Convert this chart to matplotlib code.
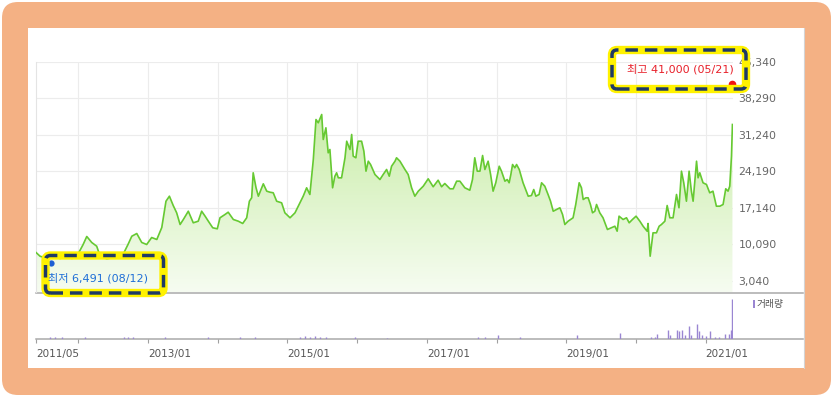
import matplotlib
matplotlib.use('Agg')
import matplotlib.pyplot as plt
import matplotlib.dates as mdates
import numpy as np
import pandas as pd
from matplotlib.patches import FancyBboxPatch, Rectangle
from matplotlib.colors import LinearSegmentedColormap
from matplotlib.lines import Line2D

# price (weekly-ish closes)
price_dates = [
    '2011-05-25', '2011-06-15', '2011-07-21', '2011-08-23', '2011-09-28', '2011-10-30',
    '2011-11-30', '2011-12-30', '2012-01-27', '2012-02-15', '2012-03-12', '2012-04-07',
    '2012-04-25', '2012-05-30', '2012-07-02', '2012-08-07', '2012-08-23', '2012-09-18',
    '2012-10-08', '2012-11-03', '2012-11-29', '2012-12-25', '2013-01-20', '2013-02-16',
    '2013-03-14', '2013-04-05', '2013-04-23', '2013-05-13', '2013-05-31', '2013-06-18',
    '2013-07-05', '2013-07-31', '2013-08-26', '2013-09-21', '2013-10-09', '2013-10-27',
    '2013-11-13', '2013-12-06', '2013-12-30', '2014-01-13', '2014-02-08', '2014-02-25',
    '2014-03-24', '2014-04-19', '2014-05-12', '2014-06-02', '2014-06-16', '2014-06-28',
    '2014-07-06', '2014-07-21', '2014-08-02', '2014-08-28', '2014-09-15', '2014-10-02',
    '2014-10-19', '2014-11-06', '2014-12-02', '2014-12-19', '2015-01-15', '2015-02-10',
    '2015-03-08', '2015-03-25', '2015-04-12', '2015-04-29', '2015-05-17', '2015-05-31',
    '2015-06-12', '2015-06-30', '2015-07-08', '2015-07-22', '2015-08-03', '2015-08-12',
    '2015-08-26', '2015-09-07', '2015-09-16', '2015-09-25', '2015-10-12', '2015-10-30',
    '2015-11-08', '2015-11-25', '2015-12-04', '2015-12-12', '2015-12-26', '2016-01-07',
    '2016-01-25', '2016-02-06', '2016-02-17', '2016-02-29', '2016-03-12', '2016-04-04',
    '2016-04-30', '2016-05-17', '2016-06-04', '2016-06-18', '2016-06-30', '2016-07-18',
    '2016-07-26', '2016-08-13', '2016-09-08', '2016-09-25', '2016-10-13', '2016-10-30',
    '2016-11-17', '2016-12-13', '2017-01-08', '2017-02-03', '2017-03-01', '2017-03-19',
    '2017-04-05', '2017-05-02', '2017-05-19', '2017-06-06', '2017-06-23', '2017-07-19',
    '2017-08-14', '2017-08-28', '2017-09-09', '2017-09-22', '2017-10-06', '2017-10-20',
    '2017-11-01', '2017-11-18', '2017-12-01', '2017-12-14', '2017-12-28', '2018-01-15',
    '2018-01-27', '2018-02-14', '2018-02-26', '2018-03-08', '2018-03-17', '2018-03-26',
    '2018-04-07', '2018-04-16', '2018-04-30', '2018-05-20', '2018-06-16', '2018-07-03',
    '2018-07-15', '2018-07-26', '2018-08-12', '2018-08-25', '2018-09-11', '2018-09-28',
    '2018-10-11', '2018-10-25', '2018-11-11', '2018-11-29', '2018-12-13', '2018-12-25',
    '2019-01-11', '2019-02-06', '2019-02-20', '2019-03-10', '2019-03-22', '2019-03-31',
    '2019-04-14', '2019-04-26', '2019-05-08', '2019-05-19', '2019-05-31', '2019-06-09',
    '2019-06-26', '2019-07-13', '2019-08-05', '2019-08-26', '2019-09-13', '2019-09-25',
    '2019-10-05', '2019-10-26', '2019-11-13', '2019-11-27', '2019-12-14', '2020-01-02',
    '2020-01-22', '2020-02-08', '2020-02-29', '2020-03-05', '2020-03-16', '2020-03-31',
    '2020-04-18', '2020-05-02', '2020-05-14', '2020-06-01', '2020-06-13', '2020-06-27',
    '2020-07-14', '2020-08-01', '2020-08-14', '2020-08-27', '2020-09-08', '2020-09-22',
    '2020-10-06', '2020-10-18', '2020-10-27', '2020-11-14', '2020-11-22', '2020-12-01',
    '2020-12-18', '2021-01-05', '2021-01-22', '2021-02-08', '2021-02-26', '2021-03-16',
    '2021-04-02', '2021-04-16', '2021-04-28', '2021-05-07', '2021-05-16', '2021-05-21',
]
price_close = [
    8550, 7830, 7390, 7770, 7390, 7770,
    7390, 8160, 10090, 11640, 10480, 9760,
    7830, 7330, 7580, 7580, 8160, 10090,
    11690, 12210, 10480, 10090, 11440, 11060,
    13370, 18450, 19420, 17620, 16210, 13950,
    14920, 16520, 14280, 14590, 16520, 15560,
    14590, 13320, 13120, 15250, 15880, 16330,
    14920, 14590, 14150, 15250, 18450, 19110,
    23940, 21040, 19420, 21810, 20390, 20190,
    20080, 18450, 18140, 16210, 15250, 16210,
    18140, 19420, 21040, 19750, 26510, 34230,
    33600, 35200, 30370, 32630, 27800, 28440,
    21040, 23280, 23940, 22970, 22970, 26840,
    30040, 28440, 31340, 27150, 26840, 30040,
    30040, 28110, 24250, 26180, 25540, 23610,
    22640, 23610, 24580, 23280, 25210, 26180,
    26840, 26180, 24580, 23610, 21040, 19420,
    20390, 21350, 22780, 21240, 22510, 21240,
    21870, 20850, 20850, 22320, 22320, 21040,
    20580, 22640, 26840, 24250, 24250, 27280,
    24580, 26180, 23610, 20390, 22010, 25210,
    24250, 22320, 22640, 22010, 23610, 25540,
    24900, 25540, 24580, 22010, 19420, 19550,
    20710, 19420, 19750, 22010, 21350, 19750,
    18450, 16520, 16850, 17180, 15880, 13950,
    14590, 15250, 17820, 22010, 21040, 18780,
    19110, 19110, 17820, 16210, 16520, 17820,
    16210, 15250, 12990, 13320, 13620, 12660,
    15560, 14920, 15250, 14280, 14920, 15560,
    14590, 13620, 12660, 14150, 7830, 12350,
    12350, 13620, 13950, 14590, 17620, 15250,
    15250, 19750, 17180, 24250, 22010, 18450,
    24250, 20390, 18450, 26180, 22970, 23940,
    22010, 21680, 20080, 20390, 17490, 17490,
    17820, 20850, 20390, 21350, 27150, 33270,
]

# volume (relative units, tallest bar = 100)
vol_dates = [
    '2011-08-07', '2011-09-02', '2011-10-09', '2012-02-06', '2012-08-28', '2012-09-18',
    '2012-10-14', '2013-03-31', '2013-11-11', '2014-04-28', '2014-07-15', '2015-03-08',
    '2015-04-03', '2015-04-29', '2015-05-26', '2015-06-21', '2015-07-22', '2015-12-21',
    '2016-06-06', '2017-09-25', '2017-11-01', '2018-01-08', '2018-05-03', '2019-02-26',
    '2019-10-09', '2020-03-19', '2020-04-09', '2020-04-23', '2020-06-15', '2020-06-30',
    '2020-08-01', '2020-08-13', '2020-08-30', '2020-09-13', '2020-10-04', '2020-10-15',
    '2020-11-14', '2020-11-26', '2020-12-10', '2021-01-05', '2021-01-26', '2021-02-17',
    '2021-03-12', '2021-04-10', '2021-05-01', '2021-05-15', '2021-05-21',
]
vol_values = [
    5, 4, 4, 5, 5, 6,
    5, 5, 4, 4, 5, 6,
    7, 6, 7, 5, 5, 4,
    3, 5, 5, 10, 4, 10,
    14, 5, 5, 12, 22, 10,
    23, 19, 22, 10, 31, 10,
    38, 19, 10, 7, 21, 5,
    5, 13, 13, 22, 100,
]

ytick_vals = [3040, 10090, 17140, 24190, 31240, 38290, 45340]
xtick_dates = ['2011-05-25', '2012-01-01', '2013-01-01', '2014-01-01', '2015-01-01',
               '2016-01-01', '2017-01-01', '2018-01-01', '2019-01-01', '2020-01-01',
               '2021-01-01']
xtick_labels = ['2011/05', '', '2013/01', '', '2015/01', '', '2017/01', '',
                '2019/01', '', '2021/01']

low_date, low_value = '2011-08-12', 6491
high_date, high_value = '2021-05-21', 41000
high_text = '최고 41,000 (05/21)'
low_text = '최저 6,491 (08/12)'

W, H = 833, 397
fig = plt.figure(figsize=(W / 100, H / 100), dpi=100)
fig.patch.set_facecolor('white')
ko = ['DejaVu Sans', 'Noto Sans CJK KR']

def px_rect(x0, y0, x1, y1):
    # pixel box (top-left origin) -> inches for dpi_scale_trans
    return (x0 / 100, (H - y1) / 100), (x1 - x0) / 100, (y1 - y0) / 100

# orange frame + white panel
xy, w, h = px_rect(2, 2, 831, 395)
fig.add_artist(FancyBboxPatch(xy, w, h, boxstyle='round,pad=0,rounding_size=0.16',
                              transform=fig.dpi_scale_trans, fc='#f4b184', ec='none', zorder=-10))
xy, w, h = px_rect(28, 28, 804, 368)
fig.add_artist(Rectangle(xy, w, h, transform=fig.dpi_scale_trans, fc='white', ec='none', zorder=-9))

def fig_line(x0, y0, x1, y1, color, lw):
    fig.add_artist(Line2D([x0 / 100, x1 / 100], [(H - y0) / 100, (H - y1) / 100],
                          transform=fig.dpi_scale_trans, color=color, lw=lw, zorder=-5))

fig_line(803.5, 28, 803.5, 368, '#d4d4d4', 0.8)

dates = pd.to_datetime(price_dates)
prices = np.array(price_close)
xmin = pd.Timestamp('2011-05-25')
xmax = pd.Timestamp('2021-05-24')
ylo, yhi = 915, 45340

ax = fig.add_axes([36 / W, (H - 292) / H, 697 / W, 230 / H])
ax.set_facecolor('none')
poly = ax.fill_between(dates, prices, ylo, facecolor='none', edgecolor='none')
grad = np.linspace(0, 1, 256).reshape(-1, 1)
cmap = LinearSegmentedColormap.from_list('g', ['#f6fcf1', '#bde994'])
im = ax.imshow(grad, cmap=cmap, aspect='auto', origin='lower', zorder=1,
               extent=[mdates.date2num(xmin), mdates.date2num(xmax), ylo, yhi])
im.set_clip_path(poly.get_paths()[0], transform=ax.transData)
ax.plot(dates, prices, color='#66c932', lw=1.2, zorder=3)
ax.plot(pd.Timestamp(low_date), low_value, 'o', color='#1c5fd4', ms=4.5, mec='none',
        zorder=6, clip_on=False)
ax.plot(pd.Timestamp(high_date), high_value, 'o', color='#f01414', ms=5.5, mec='none',
        zorder=6, clip_on=False)

ax.set_xlim(xmin, xmax)
ax.set_ylim(ylo, yhi)
ax.set_yticks(ytick_vals)
ax.set_yticklabels([f'{v:,}' for v in ytick_vals])
ax.yaxis.tick_right()
ax.tick_params(axis='y', length=0, pad=4, labelsize=7.8, labelcolor='#666666')
ax.set_xticks(pd.to_datetime(xtick_dates[1:]))
ax.tick_params(axis='x', length=0, labelbottom=False)
ax.grid(True, color='#ececec', lw=0.8)
ax.set_axisbelow(True)
for s in ['top', 'right', 'bottom']:
    ax.spines[s].set_visible(False)
ax.spines['left'].set_color('#e4e4e4')
ax.spines['left'].set_linewidth(0.8)

# volume panel
ax2 = fig.add_axes([36 / W, (H - 339) / H, 697 / W, 46 / H])
ax2.set_facecolor('none')
ax2.vlines(pd.to_datetime(vol_dates), 0, vol_values, color='#9a86d2', lw=1.0)
ax2.set_xlim(xmin, xmax)
ax2.set_ylim(0, 114)
ax2.set_yticks([])
for s in ax2.spines.values():
    s.set_visible(False)
ax2.set_xticks(pd.to_datetime(xtick_dates))
ax2.set_xticklabels(xtick_labels, ha='left')
ax2.tick_params(axis='x', length=3, width=0.8, color='#a0a0a0', pad=4,
                labelsize=7.5, labelcolor='#555555')

fig_line(36, 292.5, 803, 292.5, '#a9a9a9', 1.1)
fig_line(36, 339, 803, 339, '#a9a9a9', 1.1)

# volume legend
xy, w, h = px_rect(752.5, 300, 755, 308)
fig.add_artist(Rectangle(xy, w, h, transform=fig.dpi_scale_trans, fc='#9a86d2', ec='none'))
fig.text(757 / W, 1 - 304 / H, '거래량', ha='left', va='center', fontsize=7,
         color='#555555', family=['Noto Sans CJK KR', 'DejaVu Sans'])

# highlighted high / low labels
def marker_box(x0, y0, x1, y1):
    xy, w, h = px_rect(x0, y0, x1, y1)
    fig.add_artist(FancyBboxPatch(xy, w, h, boxstyle='round,pad=0,rounding_size=0.05',
                                  transform=fig.dpi_scale_trans, fc='none',
                                  ec='#fff200', lw=6.0, zorder=20))
    fig.add_artist(FancyBboxPatch(xy, w, h, boxstyle='round,pad=0,rounding_size=0.05',
                                  transform=fig.dpi_scale_trans, fc='none',
                                  ec='#1f3a66', lw=2.5, ls=(0, (3.6, 2.0)), zorder=21))

fig.text(627 / W, 1 - 69 / H, high_text, ha='left', va='center', fontsize=8,
         color='#e8202a', family=ko, zorder=22)
fig.text(48 / W, 1 - 278 / H, low_text, ha='left', va='center', fontsize=8,
         color='#1f6fd6', family=ko, zorder=22)
marker_box(612, 50, 746, 89)
marker_box(45.5, 255.5, 163.5, 293)

fig.savefig('out.png', dpi=100)
